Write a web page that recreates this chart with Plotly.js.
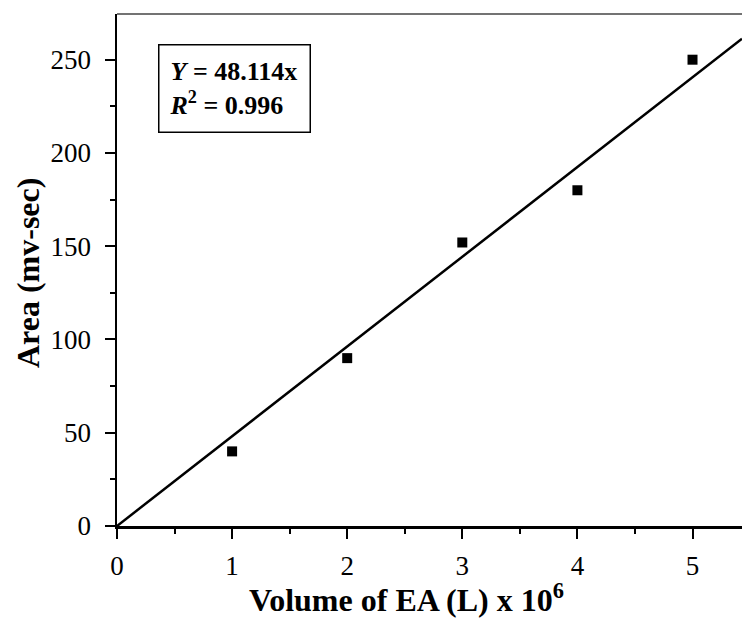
<!DOCTYPE html>
<html>
<head>
<meta charset="utf-8">
<script src="https://cdn.plot.ly/plotly-3.0.1.min.js"></script>
<style>html,body{margin:0;padding:0;background:#fff;}#chart{width:742px;height:620px;}</style>
</head>
<body>
<div id="chart"></div>
<script>
var volume = [1, 2, 3, 4, 5];
var area = [40, 90, 152, 180, 250];
var slope = 48.114;
var fitX = [0, 5.43];
var fitY = fitX.map(function (v) { return slope * v; });
var xTicks = [0, 1, 2, 3, 4, 5];
var yTicks = [0, 50, 100, 150, 200, 250];

var font = "'Liberation Serif', 'Times New Roman', serif";

var traces = [
  {
    x: fitX, y: fitY, mode: "lines", type: "scatter",
    line: {color: "#000", width: 2.5}, hoverinfo: "skip"
  },
  {
    x: volume, y: area, mode: "markers", type: "scatter",
    marker: {symbol: "square", size: 10, color: "#000"}
  }
];

var layout = {
  width: 742, height: 620,
  margin: {l: 117, r: 0, t: 14, b: 94},
  paper_bgcolor: "#fff", plot_bgcolor: "#fff",
  showlegend: false,
  font: {family: font, size: 20, color: "#000"},
  xaxis: {
    range: [0, 5.43],
    tickvals: xTicks, ticktext: xTicks.map(String),
    ticks: "outside", ticklen: 10, tickwidth: 2, tickcolor: "#000",
    minor: {dtick: 0.5, ticks: "outside", ticklen: 5, tickwidth: 2, tickcolor: "#000"},
    showline: true, linecolor: "#000", linewidth: 2.5,
    showgrid: false, zeroline: false,
    tickfont: {family: font, size: 27},
    ticklabelstandoff: 4
  },
  yaxis: {
    range: [0, 274.5],
    tickvals: yTicks, ticktext: yTicks.map(String),
    ticks: "outside", ticklen: 10, tickwidth: 2, tickcolor: "#000",
    minor: {dtick: 25, ticks: "outside", ticklen: 5, tickwidth: 2, tickcolor: "#000"},
    showline: true, linecolor: "#000", linewidth: 2.5,
    showgrid: false, zeroline: false,
    tickfont: {family: font, size: 27},
    ticklabelstandoff: 8
  },
  shapes: [
    {type: "line", xref: "paper", yref: "paper", x0: 0, x1: 1, y0: 1, y1: 1,
     line: {color: "#444", width: 1.5}}
  ],
  annotations: [
    {
      xref: "paper", yref: "paper",
      x: (158 - 117) / 625, y: (526 - 44) / 512,
      xanchor: "left", yanchor: "top",
      align: "left", showarrow: false,
      width: 130, height: 66,
      text: "<b><i>Y</i> = 48.114x</b><br><b><i>R</i><sup>2</sup> = 0.996</b>",
      font: {family: font, size: 26, color: "#000"},
      bordercolor: "#000", borderwidth: 1.5, borderpad: 10, bgcolor: "#fff"
    },
    {
      xref: "paper", yref: "paper",
      x: (406 - 117) / 625, y: (526 - 598) / 512,
      xanchor: "center", yanchor: "middle", showarrow: false,
      text: "<b>Volume of EA (L) x 10<sup>6</sup></b>",
      font: {family: font, size: 32, color: "#000"}
    },
    {
      xref: "paper", yref: "paper",
      x: (28 - 117) / 625, y: (526 - 273) / 512,
      xanchor: "center", yanchor: "middle", showarrow: false,
      textangle: -90,
      text: "<b>Area (mv-sec)</b>",
      font: {family: font, size: 32, color: "#000"}
    }
  ]
};

Plotly.newPlot("chart", traces, layout, {displayModeBar: false, staticPlot: true});
</script>
</body>
</html>
